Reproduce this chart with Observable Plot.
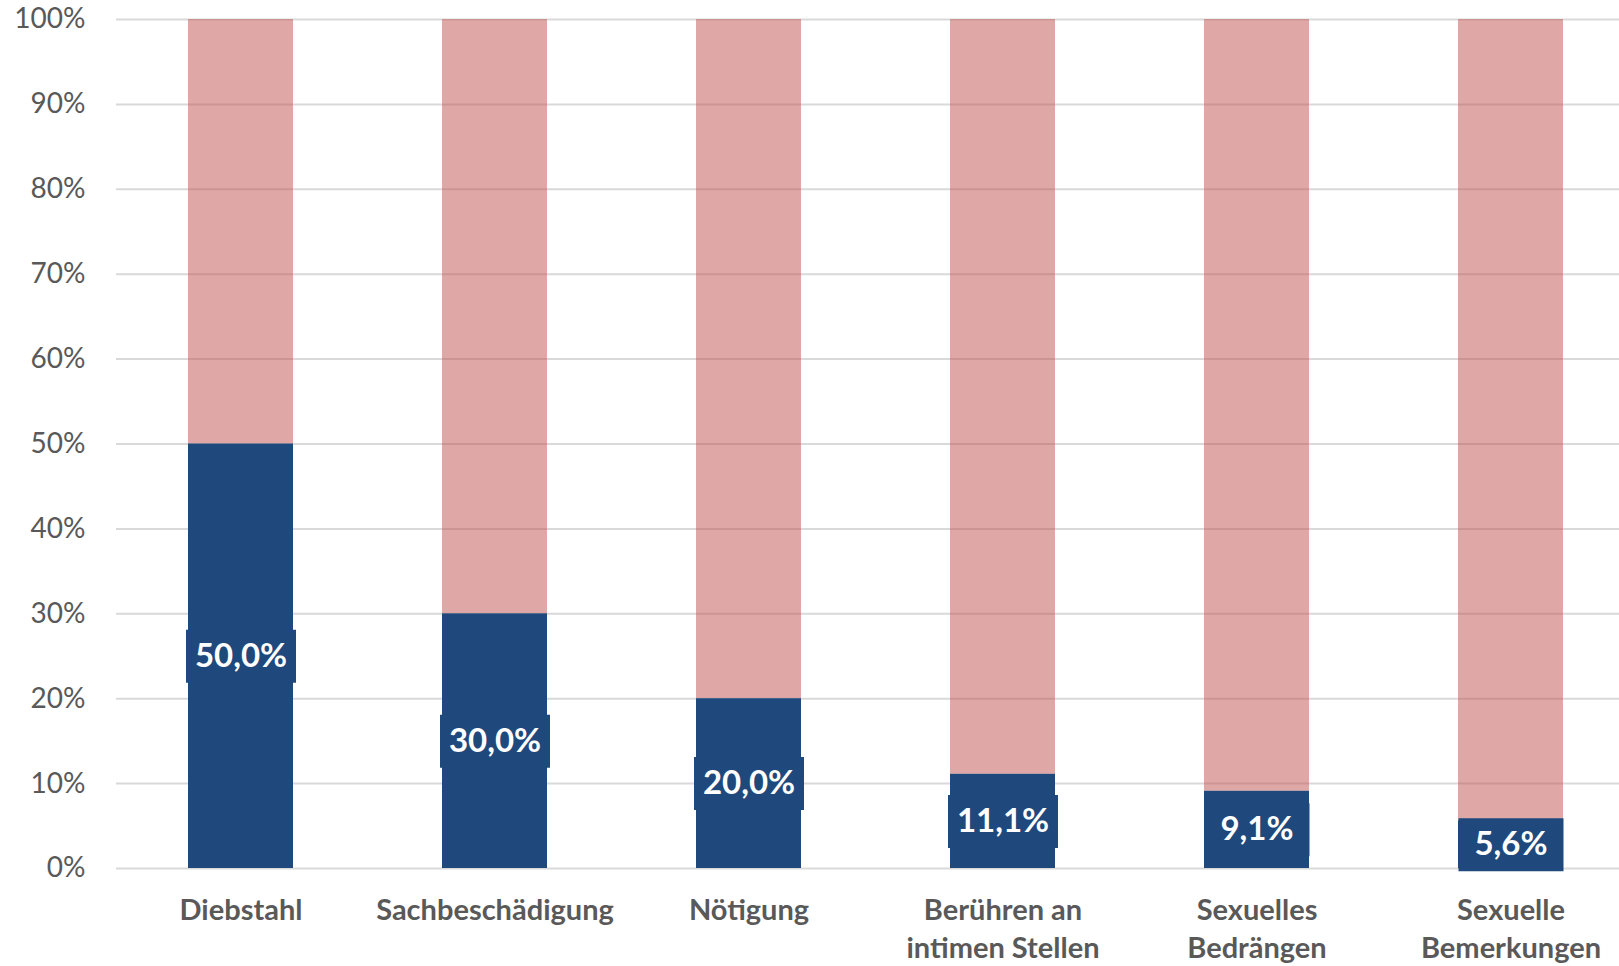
<!DOCTYPE html>
<html>
<head>
<meta charset="utf-8">
<script src="https://cdn.jsdelivr.net/npm/d3@7"></script>
<script src="https://cdn.jsdelivr.net/npm/@observablehq/plot@0.6"></script>
<style>
  html, body { margin: 0; padding: 0; background: #fff; }
  #chart { width: 1619px; height: 966px; overflow: hidden; }
</style>
</head>
<body>
<div id="chart"></div>
<script>
const categories = ["Diebstahl", "Sachbeschädigung", "Nötigung", "Berühren an\nintimen Stellen", "Sexuelles\nBedrängen", "Sexuelle\nBemerkungen"];
const shares = [50.0, 30.0, 20.0, 11.1, 9.1, 5.6];
const yTicks = [0, 10, 20, 30, 40, 50, 60, 70, 80, 90, 100];

const blue = "#1F497D";
const font = "Lato, 'Open Sans', sans-serif";

const rows = categories.map((c, i) => ({cat: c, v: shares[i], label: shares[i].toFixed(1).replace(".", ",") + "%"}));
const stacked = rows.flatMap(r => [
  {cat: r.cat, part: "ja", v: r.v},
  {cat: r.cat, part: "nein", v: 100 - r.v}
]);

const boxSymbol = (w, h) => ({draw(ctx) { ctx.rect(-w / 2, -h / 2, w, h); }});

const chart = Plot.plot({
  width: 1619,
  height: 966,
  marginLeft: 116,
  marginRight: 0,
  marginTop: 19,
  marginBottom: 98,
  style: {fontFamily: font, background: "#fff"},
  x: {domain: categories, range: [113, 1638], paddingInner: 0.586, paddingOuter: 0.293},
  y: {domain: [0, 100]},
  marks: [
    Plot.gridY(yTicks, {stroke: "#D9D9D9", strokeOpacity: 1, strokeWidth: 2}),
    Plot.barY(stacked.filter(d => d.part === "nein"), {x: "cat", y1: d => 100 - d.v, y2: 100, fill: "#C0504D", fillOpacity: 0.5}),
    Plot.barY(stacked.filter(d => d.part === "ja"), {x: "cat", y1: 0, y2: "v", fill: blue}),
    Plot.dot(rows.filter(d => d.label.length > 4), {x: "cat", y: d => d.v / 2, symbol: boxSymbol(110, 53), r: 1, fill: blue, stroke: null}),
    Plot.dot(rows.filter(d => d.label.length <= 4), {x: "cat", y: d => d.v / 2, symbol: boxSymbol(105, 53), r: 1, fill: blue, stroke: null}),
    Plot.text(rows, {x: "cat", y: d => d.v / 2, text: "label", fill: "#fff", fontSize: 33, fontWeight: "bold", fontFamily: font}),
    Plot.axisY(yTicks, {tickSize: 0, tickPadding: 31, tickFormat: d => d + "%", fontSize: 28, fill: "#595959", label: null}),
    Plot.axisX({tickSize: 0, tickPadding: 24, fontSize: 29, fontWeight: "bold", fill: "#595959", lineHeight: 1.32, label: null})
  ]
});
document.getElementById("chart").appendChild(chart);
</script>
</body>
</html>
